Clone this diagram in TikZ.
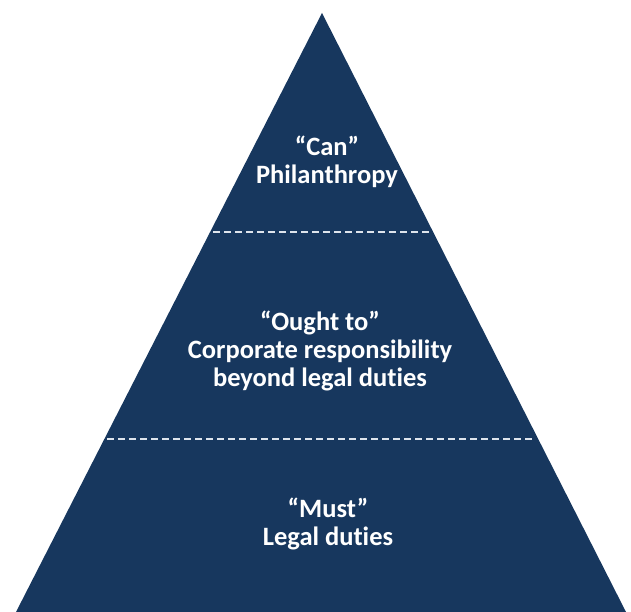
\documentclass[tikz,border=0pt]{standalone}
\usepackage{fontspec}
\setmainfont{Carlito}[Ligatures={TeX,NoCommon}]
\usetikzlibrary{calc}
\definecolor{pyramidblue}{RGB}{23,55,94}
\definecolor{dashgrey}{RGB}{222,228,236}

\begin{document}
\begin{tikzpicture}[x=1pt,y=1pt,
  level/.style={text=white,font=\bfseries\fontsize{26.5}{28}\selectfont,align=center,inner sep=0pt},
  divider/.style={draw=dashgrey,line width=2.2pt,dash pattern=on 7pt off 4pt}]
  \useasboundingbox (0,0) rectangle (631,612);

  \coordinate (top) at (322,599);
  \coordinate (bl) at (16,0);
  \coordinate (br) at (626,0);
  \fill[pyramidblue] (bl) -- (top) -- (br) -- cycle;

  % dashed dividers
  \coordinate (d1l) at ($(top)!0.3656!(bl)+(3,0)$);
  \coordinate (d1r) at ($(top)!0.3656!(br)+(-3,0)$);
  \coordinate (d2l) at ($(top)!0.7112!(bl)+(3,0)$);
  \coordinate (d2r) at ($(top)!0.7112!(br)+(-3,0)$);
  \draw[divider] (d1l) -- (d1r);
  \draw[divider] (d2l) -- (d2r);

  \node[level] (can) at (327,450) {``Can''\\Philanthropy};
  \node[level] (ought) at (320,261) {``Ought to''\\Corporate responsibility\\beyond legal duties};
  \node[level] (must) at (328,88) {``Must''\\Legal duties};
\end{tikzpicture}
\end{document}
